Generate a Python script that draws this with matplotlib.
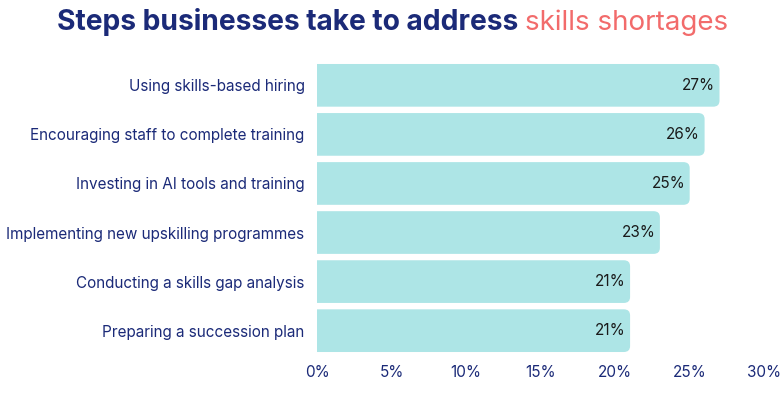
import matplotlib
matplotlib.use("Agg")
import matplotlib.pyplot as plt
from matplotlib.patches import FancyBboxPatch
from matplotlib.ticker import FuncFormatter

# data (top to bottom)
steps = [
    "Using skills-based hiring",
    "Encouraging staff to complete training",
    "Investing in AI tools and training",
    "Implementing new upskilling programmes",
    "Conducting a skills gap analysis",
    "Preparing a succession plan",
]
shares = [27, 26, 25, 23, 21, 21]
xticks = [0, 5, 10, 15, 20, 25, 30]

NAVY = "#1b2a78"
CORAL = "#f26b6b"
BAR = "#ade5e6"

plt.rcParams["font.family"] = ["Inter", "DejaVu Sans"]

fig = plt.figure(figsize=(7.83, 4.0), dpi=100)
ax = fig.add_axes([0.405, 0.112, 0.571, 0.736])

ypos = list(range(len(steps)))
bars = ax.barh(ypos, shares, height=0.87, color=BAR)

ax.set_xlim(0, 30)
ax.set_ylim(len(steps) - 0.5, -0.5)

# swap plain bars for ones with rounded right corners
for b in bars:
    x0, y0 = b.get_x(), b.get_y()
    w, h = b.get_width(), b.get_height()
    b.set_visible(False)
    p = FancyBboxPatch((x0 - 1, y0), w + 1, h,
                       boxstyle="round,pad=0,rounding_size=0.42",
                       mutation_aspect=0.29, fc=BAR, ec="none",
                       clip_on=True)
    ax.add_patch(p)

for y, v in zip(ypos, shares):
    ax.text(v - 0.3, y, f"{v}%", ha="right", va="center",
            fontsize=11, color="#1a1a1a")

ax.set_yticks(ypos)
ax.set_yticklabels(steps, fontsize=11, color=NAVY)
ax.set_xticks(xticks)
ax.xaxis.set_major_formatter(FuncFormatter(lambda v, _: f"{v:.0f}%"))
ax.tick_params(axis="x", labelsize=11, labelcolor=NAVY, length=0, pad=7)
ax.tick_params(axis="y", length=0, pad=9)
for s in ax.spines.values():
    s.set_visible(False)

t1 = fig.text(0.073, 0.925, "Steps businesses take to address ",
              fontsize=20.3, fontweight="bold", color=NAVY, va="baseline")
ax.annotate("skills shortages", xy=(1, 0), xycoords=t1, va="bottom",
            fontsize=20, color=CORAL, annotation_clip=False)

fig.savefig("out.png", dpi=100)
